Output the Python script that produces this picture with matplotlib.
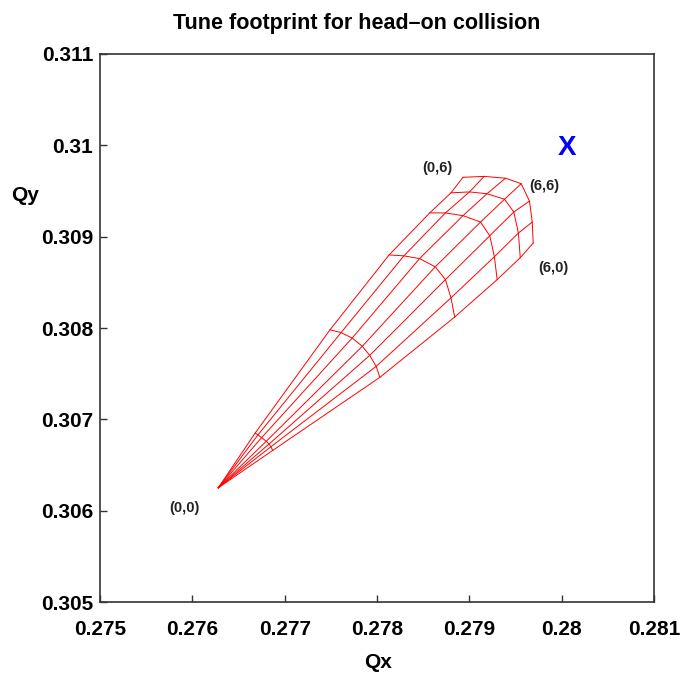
import matplotlib
matplotlib.use('Agg')
import matplotlib.pyplot as plt
import numpy as np

# --- Data footprint ---
# titik amplitudo nol, semua garis radial bertemu di sini
QX_TIP = 0.27628
QY_TIP = 0.30625

# tiap baris = satu kurva amplitudo (1..6 sigma), tiap kolom = satu garis radial
# kolom 0 = sisi (0,6), kolom 3 = sudut (6,6), kolom 6 = sisi (6,0)
QX_GRID = [
    [0.27668, 0.27671, 0.27675, 0.27680, 0.27683, 0.27685, 0.27687],
    [0.27749, 0.27761, 0.27773, 0.27784, 0.27792, 0.27799, 0.27803],
    [0.27813, 0.27829, 0.27846, 0.27863, 0.27874, 0.27880, 0.27884],
    [0.27857, 0.27874, 0.27893, 0.27912, 0.27922, 0.27927, 0.27930],
    [0.27880, 0.27900, 0.27919, 0.27938, 0.27948, 0.27953, 0.27955],
    [0.27893, 0.27916, 0.27939, 0.27956, 0.27965, 0.27968, 0.27969],
]
QY_GRID = [
    [0.30685, 0.30683, 0.30680, 0.30676, 0.30673, 0.30670, 0.30666],
    [0.30798, 0.30795, 0.30789, 0.30780, 0.30770, 0.30758, 0.30746],
    [0.30880, 0.30879, 0.30876, 0.30867, 0.30853, 0.30833, 0.30812],
    [0.30926, 0.30926, 0.30923, 0.30916, 0.30901, 0.30878, 0.30853],
    [0.30948, 0.30949, 0.30947, 0.30941, 0.30927, 0.30904, 0.30877],
    [0.30965, 0.30966, 0.30964, 0.30958, 0.30939, 0.30916, 0.30893],
]

# label sudut footprint
CORNER_LABELS = ['(0,0)', '(0,6)', '(6,6)', '(6,0)']
CORNER_QX = [0.27591, 0.27865, 0.27981, 0.27991]
CORNER_QY = [0.30603, 0.30975, 0.30955, 0.30866]

# tune tanpa tumbukan
QX_NOMINAL = 0.28006
QY_NOMINAL = 0.30997

X_TICKS = [0.275, 0.276, 0.277, 0.278, 0.279, 0.280, 0.281]
X_TICK_LABELS = ['0.275', '0.276', '0.277', '0.278', '0.279', '0.28', '0.281']
Y_TICKS = [0.305, 0.306, 0.307, 0.308, 0.309, 0.310, 0.311]
Y_TICK_LABELS = ['0.305', '0.306', '0.307', '0.308', '0.309', '0.31', '0.311']

FONT_FAMILY = ['Liberation Sans', 'DejaVu Sans']


def plot_footprint():
    qx = np.array(QX_GRID)
    qy = np.array(QY_GRID)

    fig = plt.figure(figsize=(6.85, 6.87), dpi=100)
    ax = fig.add_axes([0.146, 0.1237, 0.809, 0.7977])

    # garis radial dari titik nol ke tepi luar
    for k in range(qx.shape[1]):
        xs = np.concatenate([[QX_TIP], qx[:, k]])
        ys = np.concatenate([[QY_TIP], qy[:, k]])
        ax.plot(xs, ys, color='red', linewidth=0.7)

    # kurva amplitudo konstan
    for j in range(qx.shape[0]):
        ax.plot(qx[j], qy[j], color='red', linewidth=0.7)

    for lbl, x, y in zip(CORNER_LABELS, CORNER_QX, CORNER_QY):
        ax.text(x, y, lbl, ha='center', va='center', fontsize=10.5,
                fontweight='bold', family=FONT_FAMILY, color='#222222')

    ax.text(QX_NOMINAL, QY_NOMINAL, 'X', ha='center', va='center',
            fontsize=20, fontweight='bold', color='blue', family=FONT_FAMILY)

    ax.set_xlim(0.275, 0.281)
    ax.set_ylim(0.305, 0.311)
    ax.set_xticks(X_TICKS)
    ax.set_xticklabels(X_TICK_LABELS)
    ax.set_yticks(Y_TICKS)
    ax.set_yticklabels(Y_TICK_LABELS)
    ax.tick_params(direction='in', length=5, width=1.0,
                   labelsize=15, color='#333333')
    ax.tick_params(axis='x', pad=13)
    ax.tick_params(axis='y', pad=5)
    for lab in ax.get_xticklabels() + ax.get_yticklabels():
        lab.set_fontweight('bold')
        lab.set_family(FONT_FAMILY)
    for sp in ax.spines.values():
        sp.set_linewidth(1.2)
        sp.set_color('#333333')

    ax.set_xlabel('Qx', fontsize=15, fontweight='bold', family=FONT_FAMILY,
                  va='center')
    ax.xaxis.set_label_coords(0.502, -0.111)
    ax.set_ylabel('Qy', fontsize=15, fontweight='bold', family=FONT_FAMILY,
                  rotation=0, ha='center', va='center')
    ax.yaxis.set_label_coords(-0.135, 0.741)

    fig.text(0.52, 0.966, 'Tune footprint for head\u2013on collision',
             ha='center', va='center', fontsize=15.5, fontweight='bold',
             family=FONT_FAMILY)

    fig.savefig('out.png', dpi=100)
    print("Grafik disimpan sebagai out.png")


if __name__ == '__main__':
    plot_footprint()
